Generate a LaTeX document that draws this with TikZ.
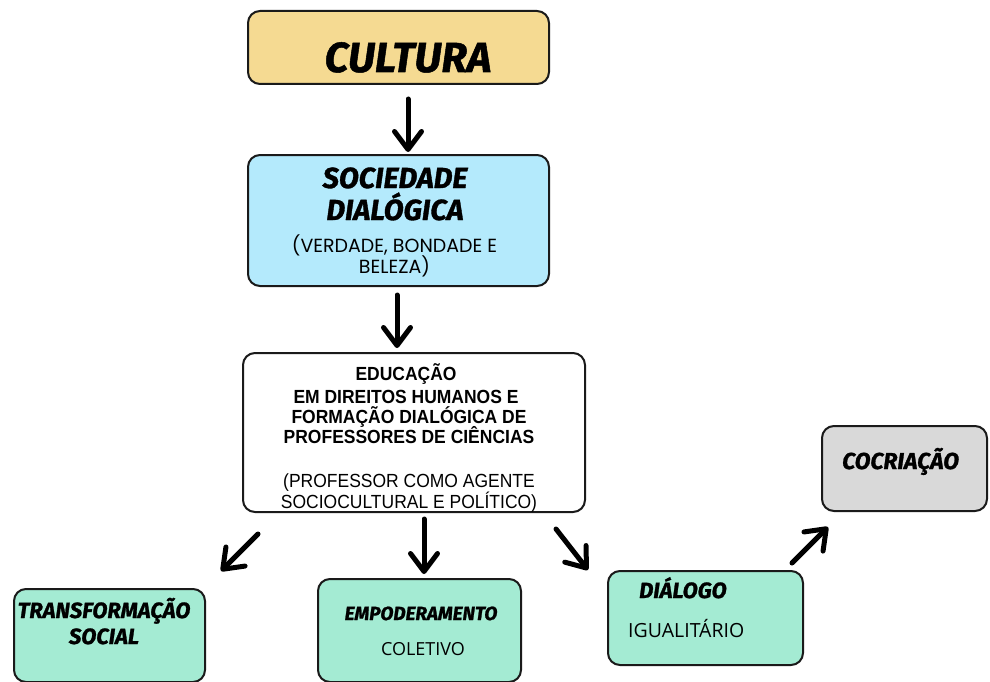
\documentclass[tikz,border=0pt]{standalone}
\usepackage{fontspec}
\usetikzlibrary{arrows.meta}
\newfontfamily\brushfont{Fira Sans}[BoldItalicFeatures={FakeBold=1.2}]
\newfontfamily\popfont{Poppins}
\newfontfamily\arialfont{Liberation Sans}[FakeStretch=0.92]
\newfontfamily\opfont{Open Sans}
\definecolor{cyel}{HTML}{F5DA92}
\definecolor{cblue}{HTML}{B4EAFC}
\definecolor{cgreen}{HTML}{A4EBD3}
\definecolor{cgray}{HTML}{D9D9D9}
\definecolor{cline}{HTML}{1A1A1A}
\begin{document}
\begin{tikzpicture}[x=1pt,y=-1pt,
  box/.style={draw=cline, line width=2pt, rounded corners=12pt, inner sep=0pt, anchor=north west},
  txt/.style={inner sep=0pt, anchor=base},
  brush/.style={font=\brushfont\bfseries\itshape\fontsize{#1}{#1}\selectfont},
  pop/.style={font=\popfont\fontsize{#1}{#1}\selectfont},
  arb/.style={font=\arialfont\bfseries\fontsize{#1}{#1}\selectfont},
  arl/.style={font=\arialfont\fontsize{#1}{#1}\selectfont},
  ops/.style={font=\opfont\fontsize{#1}{#1}\selectfont},
  arr/.style={draw=black, line width=5pt, line cap=round,
    -{Straight Barb[round, length=18pt, width=27pt]}}
]
\useasboundingbox (0,0) rectangle (990,682);
\clip (0,0) rectangle (990,682);
\fill[white] (0,0) rectangle (990,682);

% boxes
\node[box, fill=cyel, minimum width=301pt, minimum height=73pt] (cult) at (247,10) {};
\node[box, fill=cblue, minimum width=301pt, minimum height=131pt] (soc) at (247,154) {};
\node[box, fill=white, minimum width=342pt, minimum height=159pt] (edu) at (242,352) {};
\node[box, fill=cgreen, minimum width=191pt, minimum height=93pt] (trans) at (13,588) {};
\node[box, fill=cgreen, minimum width=203pt, minimum height=103pt] (emp) at (317,578) {};
\node[box, fill=cgreen, minimum width=195pt, minimum height=94pt] (dia) at (607,570) {};
\node[box, fill=cgray, minimum width=165pt, minimum height=85pt] (coc) at (821,425) {};

% texts
\node[txt, brush=42] (tcult) at (408,72) {CULTURA};
\node[txt, brush=29] (tsoc1) at (395,188) {SOCIEDADE};
\node[txt, brush=29] (tsoc2) at (395,220) {DIALÓGICA};
\node[txt, pop=19] (tsoc3) at (394.5,252) {(VERDADE, BONDADE E};
\node[txt, pop=19] (tsoc4) at (394.5,273) {BELEZA)};

\node[txt, arb=19] (tedu1) at (406,380) {EDUCAÇÃO};
\node[txt, arb=19] (tedu2) at (406,403) {EM DIREITOS HUMANOS E};
\node[txt, arb=19] (tedu3) at (409,423) {FORMAÇÃO DIALÓGICA DE};
\node[txt, arb=19] (tedu4) at (409,443) {PROFESSORES DE CIÊNCIAS};
\node[txt, arl=19] (tedu5) at (409,487) {(PROFESSOR COMO AGENTE};
\node[txt, arl=19] (tedu6) at (409,508) {SOCIOCULTURAL E POLÍTICO)};

\node[txt, brush=22] (ttrans1) at (104,618) {TRANSFORMAÇÃO};
\node[txt, brush=22] (ttrans2) at (104,644) {SOCIAL};
\node[txt, brush=19] (temp1) at (421,620) {EMPODERAMENTO};
\node[txt, ops=18] (temp2) at (423,655) {COLETIVO};
\node[txt, brush=22, anchor=base west] (tdia1) at (639,598) {DIÁLOGO};
\node[txt, ops=19.5, anchor=base west] (tdia2) at (628,637) {IGUALITÁRIO};
\node[txt, brush=23, anchor=base west] (tcoc) at (842,469) {COCRIAÇÃO};

% arrows
\draw[arr] ([shift={(9.5,14)}]cult.south) -- ([shift={(9.5,-2)}]soc.north);
\draw[arr] ([shift={(-1.5,8)}]soc.south) -- ([shift={(-17,-4)}]edu.north);
\draw[arr] ([shift={(16,21)}]edu.south west) -- ([shift={(15,-17)}]trans.north east);
\draw[arr] ([shift={(10,6)}]edu.south) -- ([shift={(4.5,-4)}]emp.north);
\draw[arr] ([shift={(-30,16)}]edu.south east) -- ([shift={(-19,0)}]dia.north west);
\draw[arr] ([shift={(-12,-7)}]dia.north east) -- ([shift={(7,15)}]coc.south west);
\end{tikzpicture}
\end{document}
